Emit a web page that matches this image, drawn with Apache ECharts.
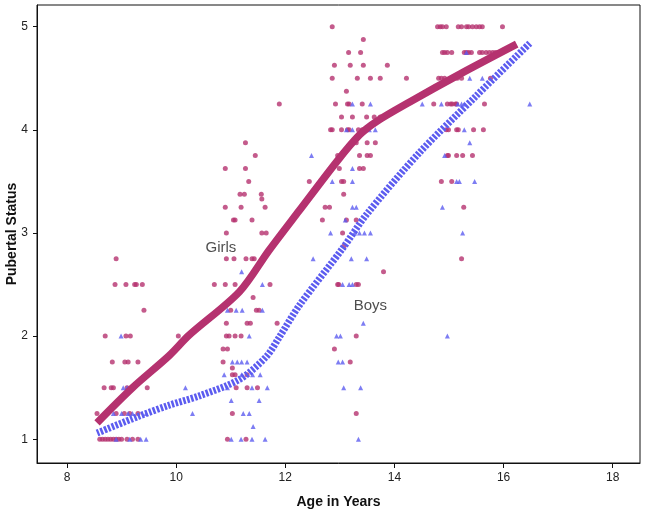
<!DOCTYPE html>
<html>
<head>
<meta charset="utf-8">
<script src="https://cdn.jsdelivr.net/npm/echarts@6/dist/echarts.min.js"></script>
<style>
    html, body { margin: 0; padding: 0; background: #fff; }
    #chart { width: 645px; height: 516px; }
</style>
</head>
<body>
<div id="chart"></div>
<script>
(function () {
    'use strict';

    var xTicks = [8, 10, 12, 14, 16, 18];
    var yTicks = [1, 2, 3, 4, 5];

    // raw scatter, [age, status]
    var girlsPoints = [
        [8.9, 2.75], [8.88, 2.5], [9.08, 2.5], [9.24, 2.5], [9.27, 2.5], [9.38, 2.5], [9.41, 2.25],
        [8.70, 2.0], [9.08, 2.0], [9.16, 2.0], [10.04, 2.0],
        [8.83, 1.75], [9.06, 1.75], [9.12, 1.75], [9.30, 1.75],
        [8.68, 1.5], [8.81, 1.5], [8.85, 1.5], [9.10, 1.5], [9.47, 1.5],
        [8.55, 1.25], [8.9, 1.25], [9.05, 1.25], [9.15, 1.25], [9.3, 1.25],
        [8.6, 1], [8.65, 1], [8.7, 1], [8.75, 1], [8.8, 1], [8.85, 1], [8.9, 1], [8.95, 1], [9.0, 1], [9.1, 1], [9.2, 1], [9.3, 1],
        [11.89, 4.25], [11.27, 3.875], [11.45, 3.75], [10.90, 3.625], [11.27, 3.625], [11.33, 3.5],
        [11.17, 3.375], [11.25, 3.375], [11.56, 3.375], [11.57, 3.33],
        [10.90, 3.25], [11.19, 3.25], [11.63, 3.25], [11.05, 3.125], [11.08, 3.125], [11.39, 3.125],
        [10.92, 3.0], [11.57, 3.0], [11.65, 3.0],
        [10.92, 2.75], [11.06, 2.75], [11.28, 2.75], [11.39, 2.75], [11.43, 2.75],
        [10.70, 2.5], [10.90, 2.5], [11.08, 2.5], [11.72, 2.5], [11.41, 2.375],
        [11.0, 2.25], [11.47, 2.25], [11.52, 2.25],
        [10.92, 2.125], [11.30, 2.125], [11.36, 2.125], [11.85, 2.125],
        [10.92, 2.0], [10.97, 2.0], [11.08, 2.0], [11.19, 2.0], [10.86, 1.875], [10.94, 1.875],
        [10.86, 1.75], [11.03, 1.69], [11.03, 1.625], [11.08, 1.625], [11.3, 1.625],
        [11.1, 1.5], [11.3, 1.5], [11.49, 1.5], [11.03, 1.25], [10.94, 1.0], [11.28, 1.0],
        [12.86, 5.0], [13.43, 4.875], [13.16, 4.75], [13.38, 4.75],
        [12.90, 4.625], [13.19, 4.625], [13.43, 4.625], [13.87, 4.625],
        [12.86, 4.5], [13.32, 4.5], [13.56, 4.5], [13.74, 4.5], [14.22, 4.5], [13.12, 4.375],
        [12.92, 4.25], [13.14, 4.25], [13.17, 4.25], [13.41, 4.25],
        [13.03, 4.125], [13.23, 4.125], [13.49, 4.125], [13.63, 4.125], [13.74, 4.125],
        [12.83, 4.0], [12.86, 4.0], [13.03, 4.0], [13.14, 4.0], [13.17, 4.0], [13.34, 4.0], [13.41, 4.0],
        [13.30, 3.875], [13.50, 3.875], [13.65, 3.875],
        [12.96, 3.75], [13.36, 3.75], [13.50, 3.75], [13.56, 3.75],
        [12.99, 3.625], [13.36, 3.625], [13.43, 3.625],
        [12.44, 3.5], [13.03, 3.5], [13.07, 3.5], [13.07, 3.375],
        [12.73, 3.25], [12.81, 3.25], [12.68, 3.125], [13.12, 3.125], [13.30, 3.125],
        [13.05, 3.0], [13.08, 2.875], [13.80, 2.625],
        [12.96, 2.5], [12.98, 2.5], [13.30, 2.5], [13.34, 2.5],
        [13.30, 2.0], [12.90, 1.875], [13.19, 1.75], [13.30, 1.25],
        [14.79, 5], [14.84, 5], [14.88, 5], [14.95, 5], [15.17, 5], [15.23, 5], [15.32, 5], [15.36, 5],
        [15.43, 5], [15.50, 5], [15.56, 5], [15.61, 5], [15.98, 5],
        [14.88, 4.75], [14.92, 4.75], [14.97, 4.75], [15.05, 4.75], [15.28, 4.75], [15.32, 4.75],
        [15.36, 4.75], [15.41, 4.75], [15.56, 4.75], [15.61, 4.75], [15.68, 4.75], [15.74, 4.75],
        [15.8, 4.75], [15.85, 4.75], [15.9, 4.75],
        [14.81, 4.5], [14.86, 4.5], [14.92, 4.5], [15.06, 4.5], [15.15, 4.5], [15.23, 4.5], [15.76, 4.5],
        [14.72, 4.25], [14.97, 4.25], [15.03, 4.25], [15.06, 4.25], [15.12, 4.25], [15.14, 4.25], [15.65, 4.25],
        [14.95, 4.0], [14.99, 4.0], [15.14, 4.0], [15.17, 4.0], [15.45, 4.0], [15.63, 4.0],
        [14.97, 3.75], [14.99, 3.75], [15.14, 3.75], [15.25, 3.75], [15.43, 3.75],
        [14.86, 3.5], [15.05, 3.5], [15.27, 3.25], [15.23, 2.75]
    ];

    var boysPoints = [
        [8.99, 2.0], [9.03, 1.5], [9.1, 1.5], [8.85, 1.25], [9.0, 1.25], [9.12, 1.25], [9.2, 1.25], [9.45, 1.25],
        [10.17, 1.5], [10.3, 1.25], [8.9, 1], [9.15, 1], [9.35, 1], [9.45, 1],
        [11.2, 2.625], [11.58, 2.5], [10.94, 2.25], [11.10, 2.25], [11.21, 2.25], [11.58, 2.25], [11.34, 2.0],
        [11.03, 1.75], [11.12, 1.75], [11.2, 1.75], [11.3, 1.75],
        [10.88, 1.625], [11.2, 1.625], [11.4, 1.625], [11.54, 1.625],
        [10.94, 1.5], [11.39, 1.5], [11.67, 1.5], [11.01, 1.375], [11.52, 1.375],
        [11.23, 1.25], [11.34, 1.25], [11.41, 1.125],
        [11.01, 1.0], [11.19, 1.0], [11.39, 1.0], [11.63, 1.0],
        [13.23, 4.25], [13.56, 4.25], [13.12, 4.0], [13.23, 4.0], [13.54, 4.0], [13.65, 4.0],
        [12.48, 3.75], [13.23, 3.625], [12.86, 3.5], [13.23, 3.5], [13.23, 3.25], [13.30, 3.25], [13.10, 3.125],
        [12.83, 3.0], [13.27, 3.0], [13.36, 3.0], [13.45, 3.0], [13.56, 3.0],
        [12.51, 2.75], [13.21, 2.75], [13.49, 2.75], [13.05, 2.5], [13.17, 2.5], [13.23, 2.5],
        [13.43, 2.125], [12.94, 2.0], [13.01, 2.0], [12.97, 1.75], [13.05, 1.75],
        [13.07, 1.5], [13.38, 1.5], [13.34, 1.0],
        [14.51, 4.25], [14.86, 4.25], [15.16, 4.25], [15.23, 4.25], [15.28, 4.25], [16.48, 4.25],
        [15.32, 4.75], [15.38, 4.5], [15.61, 4.5], [15.28, 4.0], [15.38, 3.875], [14.92, 3.75],
        [15.14, 3.5], [15.19, 3.5], [15.47, 3.5], [14.88, 3.25], [15.25, 3.0], [14.97, 2.0]
    ];

    // fitted curves
    var girlsFit = [
        [8.55, 1.16], [9.2, 1.5], [9.87, 1.81], [10.24, 2.01], [11.16, 2.43], [11.7, 2.83],
        [12.26, 3.22], [12.94, 3.69], [13.36, 3.95], [13.67, 4.08], [14.28, 4.27], [15.2, 4.54], [16.24, 4.83]
    ];
    var boysFit = [
        [8.55, 1.06], [9.3, 1.22], [9.87, 1.33], [10.42, 1.42], [11.16, 1.58], [11.65, 1.8],
        [11.89, 1.99], [12.26, 2.3], [13.05, 2.85], [13.49, 3.18], [14.46, 3.78], [15.5, 4.33], [16.5, 4.85]
    ];

    var groupLabels = [
        { name: 'Girls', value: [10.82, 2.86] },
        { name: 'Boys', value: [13.56, 2.29] }
    ];

    var GIRL = '#b5326f';
    var BOY = '#5c5cf0';
    var FONT = '"Liberation Sans", Arial, sans-serif';

    var chart = echarts.init(document.getElementById('chart'), null, { renderer: 'canvas' });

    chart.setOption({
        backgroundColor: '#fff',
        animation: false,
        grid: {
            left: 37, right: 5, top: 5, bottom: 53,
            containLabel: false, outerBoundsMode: 'none',
            show: true, borderColor: '#111', borderWidth: 1
        },
        xAxis: {
            type: 'value', min: 7.45, max: 18.5,
            name: 'Age in Years', nameLocation: 'middle', nameGap: 32, nameMoveOverlap: false,
            nameTextStyle: { fontFamily: FONT, fontWeight: 'bold', fontSize: 14, color: '#111' },
            axisLine: { lineStyle: { color: '#111' } },
            axisTick: { show: true, length: 5, customValues: xTicks, lineStyle: { color: '#111' } },
            axisLabel: { customValues: xTicks, fontFamily: FONT, fontSize: 12, color: '#222', margin: 9 },
            splitLine: { show: false }
        },
        yAxis: {
            type: 'value', min: 0.77, max: 5.21,
            name: 'Pubertal Status', nameLocation: 'middle', nameGap: 18, nameMoveOverlap: false,
            nameTextStyle: { fontFamily: FONT, fontWeight: 'bold', fontSize: 14, color: '#111' },
            axisLine: { show: true, lineStyle: { color: '#111' } },
            axisTick: { show: true, length: 4, customValues: yTicks, lineStyle: { color: '#111' } },
            axisLabel: { customValues: yTicks, fontFamily: FONT, fontSize: 12, color: '#222', margin: 9 },
            splitLine: { show: false }
        },
        series: [
            {
                type: 'scatter', data: girlsPoints, symbol: 'circle', symbolSize: 5,
                itemStyle: { color: GIRL }, z: 2
            },
            {
                type: 'scatter', data: boysPoints, symbol: 'triangle', symbolSize: 5,
                itemStyle: { color: BOY }, z: 3
            },
            {
                type: 'line', data: boysFit, smooth: 0.3, showSymbol: false,
                lineStyle: { color: BOY, width: 7, type: [2.5, 1.5], cap: 'butt' }, z: 4
            },
            {
                type: 'line', data: girlsFit, smooth: 0.3, showSymbol: false,
                lineStyle: { color: GIRL, width: 7.5, cap: 'butt' }, z: 5
            },
            {
                type: 'scatter', data: groupLabels, symbolSize: 0, z: 6,
                label: {
                    show: true, position: 'inside', formatter: '{b}',
                    fontFamily: FONT, fontSize: 15, color: '#222'
                }
            }
        ]
    });
})();
</script>
</body>
</html>
